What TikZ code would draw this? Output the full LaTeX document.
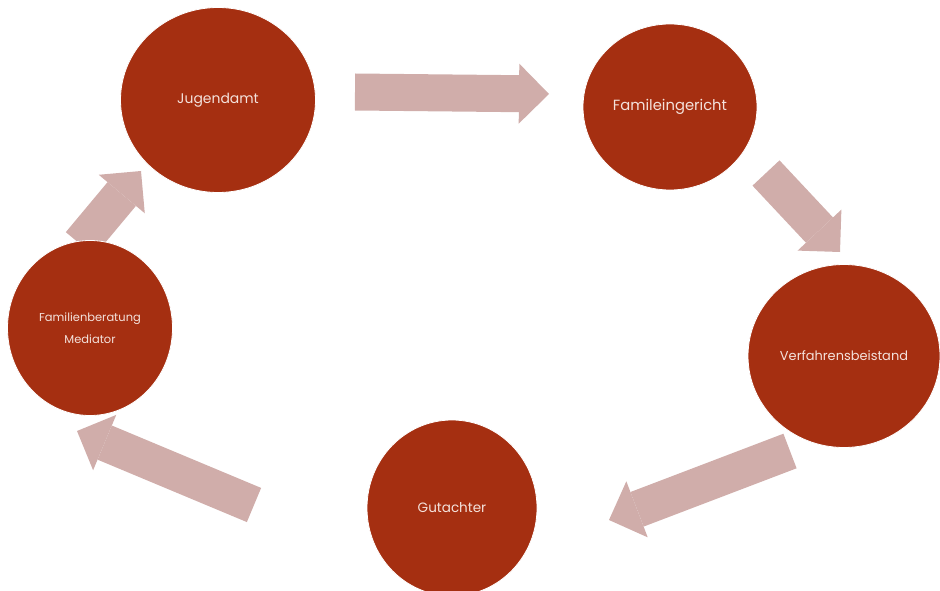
\documentclass[tikz,border=0pt]{standalone}
\usepackage{fontspec}
\setmainfont{Poppins}
\usetikzlibrary{shapes.geometric,arrows.meta,positioning}
\definecolor{rost}{RGB}{165,47,17}
\definecolor{rosa}{RGB}{208,173,170}
\definecolor{schrift}{RGB}{244,226,220}

\begin{document}
\begin{tikzpicture}[x=1bp,y=-1bp,
    every node/.style={ellipse,fill=rost,draw=white,line width=0.8bp,text=schrift,inner sep=0pt},
    pfeil/.style={rosa,line width=37bp,-{Triangle[width=60bp,length=30bp,line width=0pt 0 0]}}]
    \useasboundingbox (0,0) rectangle (940,591);

    \coordinate (a1) at (355,92);    \coordinate (b1) at (549,94);
    \coordinate (a2) at (766,173);   \coordinate (b2) at (840,252);
    \coordinate (a3) at (790,451);   \coordinate (b3) at (609,520);
    \coordinate (a4) at (254,505);   \coordinate (b4) at (77,431);
    \coordinate (a5) at (80,244);    \coordinate (b5) at (141,171);

    \draw[pfeil] (a1) -- (b1);
    \draw[pfeil] (a2) -- (b2);
    \draw[pfeil] (a3) -- (b3);
    \draw[pfeil] (a4) -- (b4);
    \draw[pfeil] (a5) -- (b5);

    \node[minimum width=195bp,minimum height=185bp,font=\fontsize{14}{16}\selectfont] (jugendamt) at (218,100) {Jugendamt};
    \node[minimum width=174bp,minimum height=166bp,font=\fontsize{14.8}{16}\selectfont] (gericht) at (670,107) {Famileingericht};
    \node[minimum width=192bp,minimum height=183bp,font=\fontsize{13}{15}\selectfont] (beistand) at (844,356) {Verfahrensbeistand};
    \node[minimum width=170bp,minimum height=176bp,font=\fontsize{13.6}{15}\selectfont] (gutachter) at (452,508) {Gutachter};
    \node[minimum width=165bp,minimum height=175bp,align=center,font=\fontsize{11.5}{22}\selectfont] (beratung) at (90,328) {Familienberatung\\Mediator};
\end{tikzpicture}
\end{document}
